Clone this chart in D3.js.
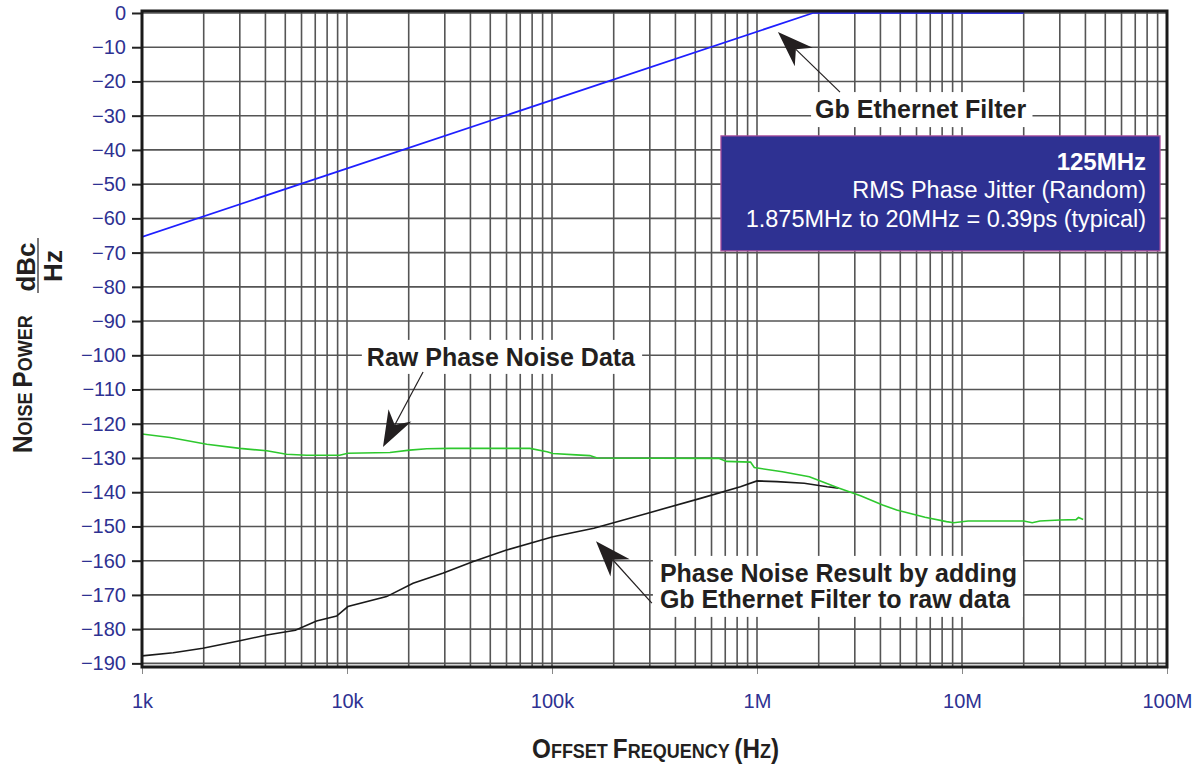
<!DOCTYPE html>
<html><head><meta charset="utf-8">
<script src="https://cdn.jsdelivr.net/npm/d3@7/dist/d3.min.js"></script>
<style>
html,body{margin:0;padding:0;background:#fff;}
svg{display:block;font-family:"Liberation Sans",Arial,Helvetica,sans-serif;}
</style></head>
<body><svg id="c" width="1201" height="769"></svg>
<script>
// ---- data (frequency in Hz, noise power in dBc/Hz) ----
const rawFreq = [1000,1370,2070,3000,4060,5070,6350,9200,10100,16200,20200,24500,31800,78000,94500,101000,131000,153000,166000,650000,710000,930000,970000,1330000,1800000,2500000,3200000,4100000,4800000,6600000,8400000,9100000,10700000,20000000,22000000,24000000,30000000,36000000,37000000,39000000];
const rawDb   = [-123,-124,-126,-127.2,-127.9,-128.9,-129.2,-129.2,-128.6,-128.4,-127.7,-127.3,-127.2,-127.2,-128.2,-128.7,-129.1,-129.3,-130.0,-130.1,-131.0,-131.2,-132.8,-134,-135.5,-138.8,-141,-143.7,-145.2,-147.3,-148.6,-148.9,-148.4,-148.4,-148.9,-148.4,-148.1,-148,-147.4,-148];
const resFreq = [1000,1420,1980,3000,4060,5600,7100,8900,10100,15600,21000,29300,41000,60000,101000,160000,290000,530000,830000,1000000,1250000,1700000,2200000,2500000];
const resDb   = [-187.8,-186.9,-185.6,-183.4,-181.7,-180.3,-177.6,-176.2,-173.4,-170.5,-166.6,-163.7,-160.3,-156.9,-153,-150.5,-146.2,-141.8,-138.4,-136.7,-136.9,-137.4,-138.4,-138.8];
const filtFreq = [1000,1875000,20000000];
const filtDb   = [-65.4,0,0];
const yTicks = d3.range(0,-191,-10);
const xTicks = [1e3,1e4,1e5,1e6,1e7,1e8];
const xTickLabels = ["1k","10k","100k","1M","10M","100M"];
const boxLines = ["125MHz","RMS Phase Jitter (Random)","1.875MHz to 20MHz = 0.39ps (typical)"];

const svg = d3.select("#c");
const L=142,R=1167,T=11,B=667;
const x = d3.scaleLog().domain([1e3,1e8]).range([L,R]);
const y = d3.scaleLinear().domain([-191.06,0.58]).range([B,T]);
const blueTxt="#2e3192";

// grid
const vgrid=[];
for(let e=3;e<8;e++) for(let k=1;k<10;k++) vgrid.push(k*Math.pow(10,e));
vgrid.push(1e8);
const g = svg.append("g");
g.selectAll("line.v").data(vgrid).join("line")
 .attr("x1",d=>x(d)).attr("x2",d=>x(d)).attr("y1",T).attr("y2",B)
 .attr("stroke","#555").attr("stroke-width",1.6);
g.selectAll("line.h").data(yTicks).join("line")
 .attr("x1",L).attr("x2",R).attr("y1",d=>y(d)).attr("y2",d=>y(d))
 .attr("stroke","#555").attr("stroke-width",1.6);

// axes
const yAxis = d3.axisLeft(y).tickValues(yTicks).tickSize(9).tickPadding(6).tickFormat(d3.format("d"));
const ya = svg.append("g").attr("transform",`translate(${L-1},0)`).call(yAxis);
ya.select(".domain").remove();
ya.selectAll("line").attr("stroke","#222").attr("stroke-width",2);
ya.selectAll("text").attr("fill",blueTxt).attr("font-size",20).attr("font-family","Liberation Sans, Arial, sans-serif");

const xAxis = d3.axisBottom(x).tickValues(xTicks).tickSize(7).tickPadding(20).tickFormat((d,i)=>xTickLabels[i]);
const xa = svg.append("g").attr("transform",`translate(0,${B})`).call(xAxis);
xa.select(".domain").remove();
xa.selectAll("line").attr("stroke","#888").attr("stroke-width",1);
xa.selectAll("text").attr("fill",blueTxt).attr("font-size",20).attr("font-family","Liberation Sans, Arial, sans-serif");

// clip
svg.append("clipPath").attr("id","pc").append("rect").attr("x",L).attr("y",T).attr("width",R-L).attr("height",B-T);
const line = d3.line().x(d=>x(d[0])).y(d=>y(d[1]));
const plot = svg.append("g").attr("clip-path","url(#pc)");
plot.append("path").datum(d3.zip(resFreq,resDb)).attr("d",line).attr("fill","none").attr("stroke","#1a1a1a").attr("stroke-width",1.6);
plot.append("path").datum(d3.zip(rawFreq,rawDb)).attr("d",line).attr("fill","none").attr("stroke","#2ec82e").attr("stroke-width",1.6);
plot.append("path").datum(d3.zip(filtFreq,filtDb)).attr("d",line).attr("fill","none").attr("stroke","#1f1fff").attr("stroke-width",1.7);

// annotations (positions in data units)
const ann = svg.append("g");
function label(lines, fx, db, bg){
  const gg = ann.append("g");
  const r = gg.append("rect").attr("fill","#fff");
  const t = gg.append("text").attr("font-size",25).attr("font-weight","bold").attr("fill","#231f20");
  lines.forEach((s,i)=>t.append("tspan").attr("x",x(fx)).attr("y",y(db)+i*26).text(s));
  const bb = t.node().getBBox();
  r.attr("x",bb.x-bg[0]).attr("y",bb.y-bg[1]).attr("width",bb.width+bg[0]+bg[2]).attr("height",bb.height+bg[1]+bg[3]);
}
function arrow(f0,d0,f1,d1){
  const x0=x(f0),y0=y(d0),x1=x(f1),y1=y(d1);
  const ang=Math.atan2(y1-y0,x1-x0);
  const Lh=36,W=13,N=25;
  const ux=Math.cos(ang),uy=Math.sin(ang),px=-uy,py=ux;
  ann.append("line").attr("x1",x0).attr("y1",y0).attr("x2",x1-ux*N).attr("y2",y1-uy*N).attr("stroke","#231f20").attr("stroke-width",1.2);
  const pts=[[x1,y1],[x1-ux*Lh+px*W,y1-uy*Lh+py*W],[x1-ux*N,y1-uy*N],[x1-ux*Lh-px*W,y1-uy*Lh-py*W]];
  ann.append("path").attr("d","M"+pts.map(p=>p.join(",")).join("L")+"Z").attr("fill","#231f20");
}
label(["Gb Ethernet Filter"],1.92e6,-30.7,[4,3,6,4]);
arrow(2.54e6,-23.1,1.265e6,-5.55);
label(["Raw Phase Noise Data"],1.25e4,-103.1,[5,3,6,3]);
arrow(2.35e4,-104.9,1.498e4,-126.8);
label(["Phase Noise Result by adding","Gb Ethernet Filter to raw data"],3.36e5,-166.2,[7,3,6,4]);
arrow(3.07e5,-172.4,1.639e5,-154.3);

// info box
const bx0=6.67e5,bx1=9.25e7,by0=-35.9,by1=-69.5;
svg.append("rect").attr("x",x(bx0)).attr("y",y(by0)).attr("width",x(bx1)-x(bx0)).attr("height",y(by1)-y(by0))
 .attr("fill","#2e3192").attr("stroke","#b0509e").attr("stroke-width",1.2);
const bt = svg.append("text").attr("fill","#fff").attr("text-anchor","end");
const bBase=[-45.9,-54.1,-62.6];
boxLines.forEach((s,i)=>bt.append("tspan").attr("x",x(7.9e7)).attr("y",y(bBase[i])).attr("font-size",i==0?24:23.5).attr("font-weight",i==0?"bold":"normal").text(s));

// frame
svg.append("rect").attr("x",L).attr("y",T).attr("width",R-L).attr("height",B-T).attr("fill","none").attr("stroke","#1a1a1a").attr("stroke-width",3);

// axis titles (small caps)
const yt = svg.append("text").attr("transform","translate(32,453) rotate(-90) scale(0.9,1)").attr("font-weight","bold").attr("fill","#231f20");
[["N",27],["OISE ",20],["P",27],["OWER",20]].forEach(d=>yt.append("tspan").attr("font-size",d[1]).text(d[0]));
svg.append("text").attr("transform","translate(35,267) rotate(-90)").attr("text-anchor","middle").attr("font-weight","bold").attr("font-size",26).attr("fill","#231f20").text("dBc");
svg.append("text").attr("transform","translate(62,266) rotate(-90)").attr("text-anchor","middle").attr("font-weight","bold").attr("font-size",26).attr("fill","#231f20").text("Hz");
svg.append("line").attr("x1",38).attr("x2",38).attr("y1",238).attr("y2",293).attr("stroke","#231f20").attr("stroke-width",1.2);

const xt = svg.append("text").attr("transform","translate(532,758) scale(0.9,1)").attr("font-weight","bold").attr("fill","#231f20");
[["O",27],["FFSET ",20],["F",27],["REQUENCY ",20],["(H",27],["Z",20],[")",27]].forEach(d=>xt.append("tspan").attr("font-size",d[1]).text(d[0]));
</script></body></html>
